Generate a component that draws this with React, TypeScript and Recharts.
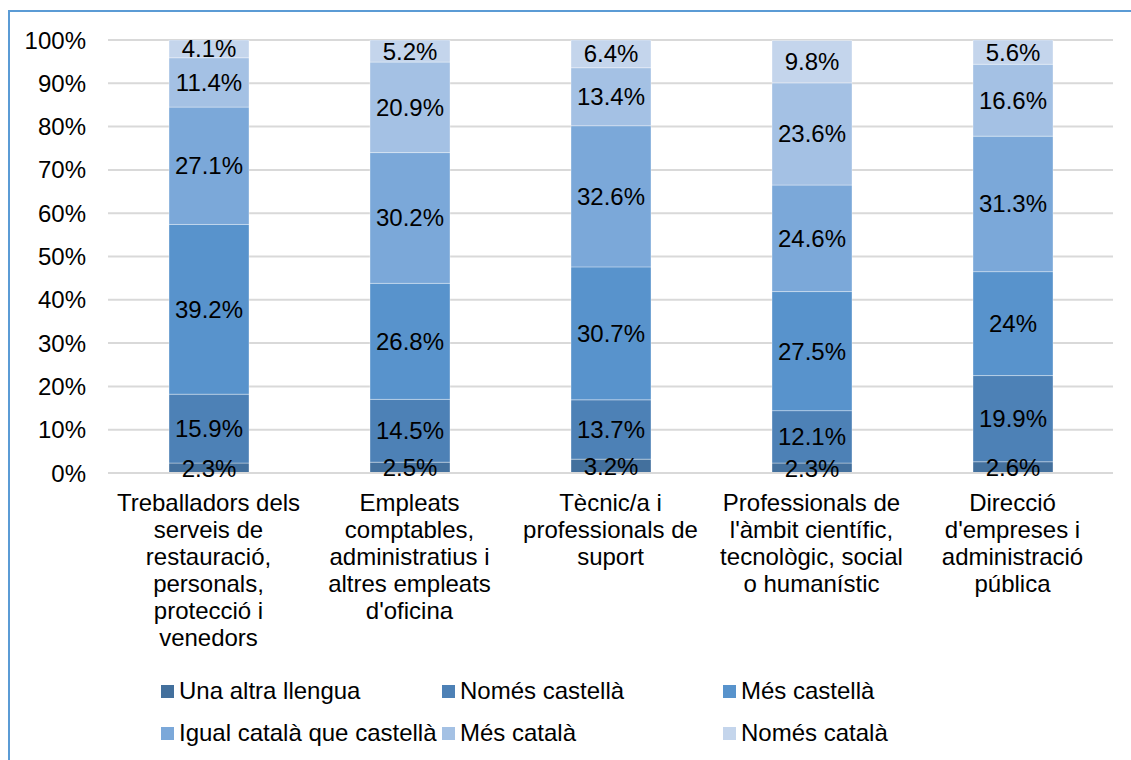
import React from 'react';
import { BarChart, Bar, XAxis, YAxis, CartesianGrid, LabelList, Legend } from 'recharts';

const categoryLines: string[][] = [
  ['Treballadors dels', 'serveis de', 'restauració,', 'personals,', 'protecció i', 'venedors'],
  ['Empleats', 'comptables,', 'administratius i', 'altres empleats', "d'oficina"],
  ['Tècnic/a i', 'professionals de', 'suport'],
  ['Professionals de', "l'àmbit científic,", 'tecnològic, social', 'o humanístic'],
  ['Direcció', "d'empreses i", 'administració', 'pública'],
];
const categories = categoryLines.map((l) => l.join(' '));

const seriesNames = [
  'Una altra llengua',
  'Només castellà',
  'Més castellà',
  'Igual català que castellà',
  'Més català',
  'Només català',
];
const unaAltraLlengua = [2.3, 2.5, 3.2, 2.3, 2.6];
const nomesCastella = [15.9, 14.5, 13.7, 12.1, 19.9];
const mesCastella = [39.2, 26.8, 30.7, 27.5, 24];
const igualCatalaCastella = [27.1, 30.2, 32.6, 24.6, 31.3];
const mesCatala = [11.4, 20.9, 13.4, 23.6, 16.6];
const nomesCatala = [4.1, 5.2, 6.4, 9.8, 5.6];
const yTicks = [0, 10, 20, 30, 40, 50, 60, 70, 80, 90, 100];

const seriesValues = [unaAltraLlengua, nomesCastella, mesCastella, igualCatalaCastella, mesCatala, nomesCatala];
const colors = ['#43709d', '#4d81b6', '#5893cc', '#7ba8d9', '#a4c1e4', '#c4d5ec'];
const keys = ['s0', 's1', 's2', 's3', 's4', 's5'];

const data = categories.map((c, i) => {
  const row: Record<string, any> = { name: c, idx: i };
  keys.forEach((k, j) => {
    row[k] = seriesValues[j][i];
  });
  return row;
});

const FONT = '"Liberation Sans", Arial, sans-serif';
const FS = 24;

const XTick = (props: any) => {
  const { x, y, payload } = props;
  const lines = categoryLines[payload.index] || [String(payload.value)];
  return (
    <text x={x} y={y} textAnchor="middle" fontFamily={FONT} fontSize={FS} fill="#000">
      {lines.map((l, i) => (
        <tspan key={i} x={x} dy={i === 0 ? 38 : 27}>
          {l}
        </tspan>
      ))}
    </text>
  );
};

const renderLegend = (props: any) => {
  const payload = [...(props.payload || [])].sort(
    (a: any, b: any) => seriesNames.indexOf(a.value) - seriesNames.indexOf(b.value)
  );
  return (
    <div style={{ position: 'relative', width: 1131, height: 90 }}>
      {payload.map((p: any, i: number) => {
        const col = i % 3;
        const row = Math.floor(i / 3);
        return (
          <div
            key={i}
            style={{
              position: 'absolute',
              left: 161 + col * 281,
              top: row * 42,
              height: 30,
              display: 'flex',
              alignItems: 'center',
              fontSize: FS,
              fontFamily: FONT,
              color: '#000',
              whiteSpace: 'nowrap',
            }}
          >
            <span style={{ display: 'inline-block', width: 13, height: 13, background: p.color, marginRight: 5 }} />
            <span>{p.value}</span>
          </div>
        );
      })}
    </div>
  );
};

export default function App() {
  return (
    <div
      style={{
        position: 'absolute',
        left: 0,
        top: 0,
        width: 1131,
        height: 760,
        overflow: 'hidden',
        background: '#fff',
      }}
    >
      <div
        style={{
          position: 'absolute',
          left: 8,
          top: 10,
          width: 1300,
          height: 900,
          borderLeft: '2px solid #5b9bd5',
          borderTop: '2px solid #5b9bd5',
        }}
      />
      <div style={{ position: 'absolute', left: 0, top: 0 }}>
        <BarChart
          width={1131}
          height={760}
          data={data}
          margin={{ top: 40, right: 18, left: 0, bottom: 0 }}
          barSize={80}
        >
          <CartesianGrid vertical={false} stroke="#d9d9d9" strokeWidth={2} />
          <XAxis
            dataKey="name"
            interval={0}
            tick={<XTick />}
            tickLine={false}
            tickSize={0}
            tickMargin={0}
            axisLine={{ stroke: '#d9d9d9', strokeWidth: 2 }}
            height={287}
          />
          <YAxis
            domain={[0, 100]}
            ticks={yTicks}
            allowDataOverflow
            width={108}
            tickFormatter={(v: number) => `${v}%`}
            tick={{ fontSize: FS, fontFamily: FONT, fill: '#000' }}
            axisLine={false}
            tickLine={false}
            tickSize={0}
            tickMargin={22}
          />
          <Legend
            layout="horizontal"
            verticalAlign="middle"
            align="center"
            wrapperStyle={{ top: 676, left: 0, width: 1131 }}
            content={renderLegend}
          />
          {keys.map((k, j) => (
            <Bar
              key={k}
              dataKey={k}
              name={seriesNames[j]}
              stackId="a"
              fill={colors[j]}
              stroke="rgba(255,255,255,0.35)"
              strokeWidth={1}
              isAnimationActive={false}
            >
              <LabelList
                dataKey={k}
                position="center"
                formatter={(v: any) => `${v}%`}
                style={{ fontSize: FS, fontFamily: FONT, fill: '#000' }}
              />
            </Bar>
          ))}
        </BarChart>
      </div>
    </div>
  );
}
